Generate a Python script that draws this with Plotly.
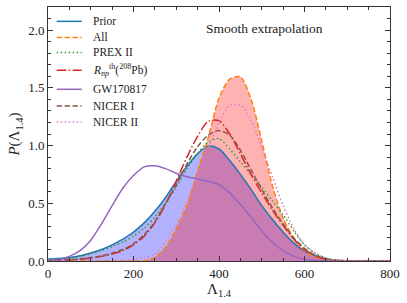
import plotly.graph_objects as go

# Lambda_1.4 grid
lam = list(range(0, 801, 25))

prior = [0.017, 0.022, 0.03, 0.045, 0.07, 0.10, 0.14, 0.19, 0.25, 0.33, 0.43, 0.55, 0.69, 0.82, 0.93, 0.995,
         0.97, 0.87, 0.75, 0.62, 0.48, 0.36, 0.25, 0.155, 0.085, 0.045, 0.02, 0.007, 0.002, 0, 0, 0, 0]
all_ = [0, 0, 0, 0, 0, 0, 0, 0, 0, 0.003, 0.03, 0.12, 0.28, 0.48, 0.78, 1.07,
        1.41, 1.575, 1.595, 1.40, 1.04, 0.65, 0.37, 0.20, 0.09, 0.035, 0.012, 0.003, 0, 0, 0, 0, 0]
prex = [0.006, 0.012, 0.022, 0.04, 0.063, 0.09, 0.125, 0.165, 0.215, 0.285, 0.38, 0.50, 0.64, 0.80, 0.93, 1.03,
        1.06, 0.97, 0.86, 0.75, 0.64, 0.52, 0.40, 0.26, 0.14, 0.065, 0.025, 0.008, 0.002, 0, 0, 0, 0]
rnp = [0.002, 0.004, 0.008, 0.015, 0.025, 0.04, 0.06, 0.09, 0.14, 0.215, 0.33, 0.49, 0.69, 0.90, 1.08, 1.21,
       1.215, 1.10, 0.93, 0.75, 0.59, 0.44, 0.31, 0.19, 0.10, 0.045, 0.015, 0.004, 0.001, 0, 0, 0, 0]
gw = [0.003, 0.012, 0.04, 0.09, 0.18, 0.32, 0.48, 0.63, 0.74, 0.815, 0.825, 0.80, 0.76, 0.73, 0.71, 0.69,
      0.66, 0.59, 0.49, 0.38, 0.26, 0.16, 0.09, 0.04, 0.015, 0.005, 0, 0, 0, 0, 0, 0, 0]
nicer1 = [0.003, 0.006, 0.01, 0.018, 0.03, 0.045, 0.068, 0.10, 0.15, 0.23, 0.34, 0.50, 0.66, 0.84, 0.99, 1.09,
          1.13, 1.09, 0.96, 0.79, 0.62, 0.46, 0.32, 0.20, 0.11, 0.05, 0.018, 0.005, 0.001, 0, 0, 0, 0]
nicer2 = [0, 0, 0, 0, 0, 0, 0.002, 0.005, 0.015, 0.03, 0.06, 0.17, 0.32, 0.52, 0.75, 0.98,
          1.20, 1.345, 1.35, 1.22, 0.98, 0.73, 0.48, 0.28, 0.14, 0.07, 0.025, 0.008, 0.002, 0, 0, 0, 0]

labels = ["Prior", "All", "PREX II",
          "<i>R</i><sub><i>np</i></sub><sup>th</sup>(<sup>208</sup>Pb)",
          "GW170817", "NICER I", "NICER II"]

x_ticks = [0, 200, 400, 600, 800]
y_ticks = [0.0, 0.5, 1.0, 1.5, 2.0]

FONT = "Liberation Serif"
TXT = "#222"

DASH = "5.5px,2.4px"
DOT = "1.5px,2.5px"
DASHDOT = "9.6px,2.4px,1.5px,2.4px"

series = [
    (labels[0], prior, "#1f77b4", "solid"),
    (labels[1], all_, "#ff7f0e", DASH),
    (labels[2], prex, "#2ca02c", DOT),
    (labels[3], rnp, "#d62728", DASHDOT),
    (labels[4], gw, "#9467bd", "solid"),
    (labels[5], nicer1, "#8c564b", DASH),
    (labels[6], nicer2, "#e377c2", DOT),
]

fig = go.Figure()

# shaded areas
fig.add_trace(go.Scatter(x=lam, y=prior, fill="tozeroy", fillcolor="rgba(0,0,255,0.30)",
                         mode="lines", line=dict(width=0, shape="spline", smoothing=0.8),
                         showlegend=False, hoverinfo="skip"))
fig.add_trace(go.Scatter(x=lam, y=all_, fill="tozeroy", fillcolor="rgba(255,0,0,0.30)",
                         mode="lines", line=dict(width=0, shape="spline", smoothing=0.8),
                         showlegend=False, hoverinfo="skip"))

for name, ys, col, dash in series:
    fig.add_trace(go.Scatter(x=lam, y=ys, name=name, mode="lines", showlegend=False,
                             line=dict(color=col, width=1.5, dash=dash, shape="spline", smoothing=0.8)))

# legend (matplotlib-style, tight spacing)
leg_y = [0.9435, 0.880, 0.821, 0.751, 0.676, 0.610, 0.547]
for (name, ys, col, dash), yy in zip(series, leg_y):
    fig.add_shape(type="line", xref="paper", yref="paper", x0=0.0254, x1=0.0985, y0=yy, y1=yy,
                  line=dict(color=col, width=1.5, dash=dash))
    fig.add_annotation(x=0.125, y=yy, xref="paper", yref="paper", text=name, showarrow=False,
                       xanchor="left", yanchor="middle", font=dict(family=FONT, size=11.5, color=TXT))

fig.add_annotation(x=0.632, y=0.915, xref="paper", yref="paper", text="Smooth extrapolation",
                   showarrow=False, xanchor="center", yanchor="middle",
                   font=dict(family=FONT, size=13.5, color=TXT))

axis_common = dict(showline=True, linecolor="#333", linewidth=1, mirror="ticks", ticks="inside",
                   tickcolor="#333", ticklen=5, showgrid=False, zeroline=False,
                   tickfont=dict(family=FONT, size=13, color=TXT))

fig.update_xaxes(range=[0, 800], tickvals=x_ticks, ticktext=[str(v) for v in x_ticks],
                 minor=dict(dtick=50, ticks="inside", ticklen=3, tickcolor="#333"),
                 title=dict(text="Λ<sub>1.4</sub>", font=dict(family=FONT, size=15, color=TXT), standoff=3),
                 automargin=False, **axis_common)
fig.update_yaxes(range=[0, 2.2], tickvals=y_ticks, ticktext=[f"{v:.1f}" for v in y_ticks],
                 minor=dict(dtick=0.1, ticks="inside", ticklen=3, tickcolor="#333"),
                 title=dict(text="<i>P</i>(Λ<sub>1.4</sub>)", font=dict(family=FONT, size=15, color=TXT), standoff=4),
                 automargin=False, **axis_common)

fig.update_layout(
    width=407, height=303,
    margin=dict(l=48, r=17, t=7, b=42),
    plot_bgcolor="white", paper_bgcolor="white",
    showlegend=False,
)

fig.write_html("out.html", config={"displayModeBar": False},
               post_script="document.body.style.margin='0';")
